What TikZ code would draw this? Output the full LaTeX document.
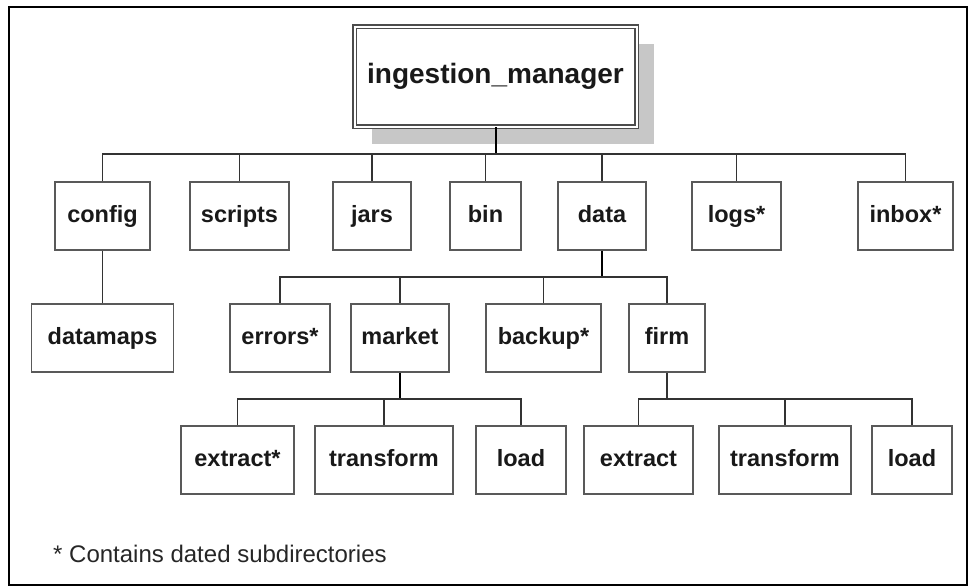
\documentclass[tikz,border=0pt]{standalone}
\usepackage{fontspec}
\setmainfont{Liberation Sans}
\usetikzlibrary{shadows}
\tikzstyle{dirbox} = [rectangle, draw=black!65, line width=1.8pt, fill=white, minimum height=68pt, inner sep=0pt, text centered, text height=17pt, text depth=5pt, font=\fontsize{23.5}{28}\selectfont\bfseries, text=black!90]
\tikzstyle{rootbox} = [rectangle, draw=black!70, line width=1.5pt, double=white, double distance=2pt, fill=white, minimum width=282pt, minimum height=100pt, inner sep=0pt, text centered, text height=19pt, text depth=6pt, font=\fontsize{28}{32}\selectfont\bfseries, text=black!90, drop shadow={shadow xshift=17pt, shadow yshift=-17pt, opacity=1, fill=black!22}]
\tikzstyle{link} = [line width=1.6pt, draw=black!80]

\begin{document}
\begin{tikzpicture}[x=1pt, y=-1pt]
            \useasboundingbox (0,0) rectangle (969,587);
            \draw [line width=2.5pt] (9,7) rectangle (967,585);

            \node (manager) [rootbox] at (495.5,76.5) {ingestion\_manager};

            \node (config) [dirbox, minimum width=95pt] at (102.5,216) {config};
            \node (scripts) [dirbox, minimum width=99pt] at (239.5,216) {scripts};
            \node (jars) [dirbox, minimum width=78pt] at (372,216) {jars};
            \node (bin) [dirbox, minimum width=71pt] at (485.5,216) {bin};
            \node (data) [dirbox, minimum width=88pt] at (602,216) {data};
            \node (logs) [dirbox, minimum width=89pt] at (736.5,216) {logs*};
            \node (inbox) [dirbox, minimum width=95pt] at (905.5,216) {inbox*};

            \node (datamaps) [dirbox, minimum width=142pt] at (102.5,338) {datamaps};
            \node (errors) [dirbox, minimum width=100pt] at (280,338) {errors*};
            \node (market) [dirbox, minimum width=98pt] at (400,338) {market};
            \node (backup) [dirbox, minimum width=115pt] at (543.5,338) {backup*};
            \node (firm) [dirbox, minimum width=76pt] at (667,338) {firm};

            \node (mextract) [dirbox, minimum width=113pt] at (237.5,460) {extract*};
            \node (mtransform) [dirbox, minimum width=138pt] at (384,460) {transform};
            \node (mload) [dirbox, minimum width=90pt] at (521,460) {load};
            \node (fextract) [dirbox, minimum width=109pt] at (638.5,460) {extract};
            \node (ftransform) [dirbox, minimum width=132pt] at (785,460) {transform};
            \node (fload) [dirbox, minimum width=80pt] at (912,460) {load};

            \node (note) [anchor=base west, inner sep=0pt, font=\fontsize{24}{28}\selectfont, text=black!85] at (53,562) {* Contains dated subdirectories};

            \coordinate (topbus) at (0,154);
            \coordinate (databus) at (0,277);
            \coordinate (leafbus) at (0,399);

            \draw [link, line width=2pt, draw=black] (manager.south) -- (manager.south |- topbus);
            \draw [link] (config.north) |- (manager.south |- topbus);
            \draw [link] (scripts.north) |- (manager.south |- topbus);
            \draw [link] (jars.north) |- (manager.south |- topbus);
            \draw [link] (bin.north) |- (manager.south |- topbus);
            \draw [link] (data.north) |- (manager.south |- topbus);
            \draw [link] (logs.north) |- (manager.south |- topbus);
            \draw [link] (inbox.north) |- (manager.south |- topbus);

            \draw [link] (config.south) -- (datamaps.north);

            \draw [link, line width=2pt, draw=black] (data.south) -- (data.south |- databus);
            \draw [link] (errors.north) |- (data.south |- databus);
            \draw [link] (market.north) |- (data.south |- databus);
            \draw [link] (backup.north) |- (data.south |- databus);
            \draw [link] (firm.north) |- (data.south |- databus);

            \draw [link, line width=2pt, draw=black] (market.south) -- (market.south |- leafbus);
            \draw [link] (mextract.north) |- (market.south |- leafbus);
            \draw [link] (mtransform.north) |- (market.south |- leafbus);
            \draw [link] (mload.north) |- (market.south |- leafbus);

            \draw [link] (firm.south) -- (firm.south |- leafbus);
            \draw [link] (fextract.north) |- (firm.south |- leafbus);
            \draw [link] (ftransform.north) |- (firm.south |- leafbus);
            \draw [link] (fload.north) |- (firm.south |- leafbus);
        \end{tikzpicture}
\end{document}
